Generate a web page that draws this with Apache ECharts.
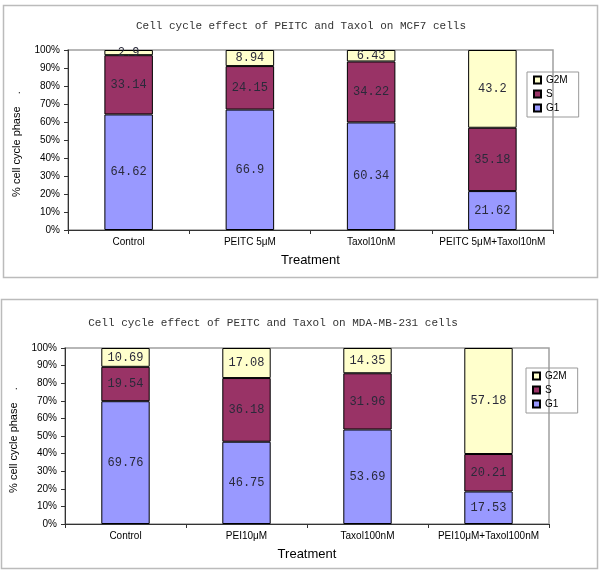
<!DOCTYPE html>
<html>
<head>
<meta charset="utf-8">
<script src="https://cdn.jsdelivr.net/npm/echarts@6/dist/echarts.min.js"></script>
<style>
html,body{margin:0;padding:0;background:#fff;}
#c{width:600px;height:571px;}
</style>
</head>
<body>
<div id="c"></div>
<script>
// ---- Data ----
const titles = ['Cell cycle effect of PEITC and Taxol on MCF7 cells',
                'Cell cycle effect of PEITC and Taxol on MDA-MB-231 cells'];
const categories1 = ['Control', 'PEITC 5μM', 'Taxol10nM', 'PEITC 5μM+Taxol10nM'];
const categories2 = ['Control', 'PEI10μM', 'Taxol100nM', 'PEI10μM+Taxol100nM'];
const g1_mcf7  = [64.62, 66.9, 60.34, 21.62];
const s_mcf7   = [33.14, 24.15, 34.22, 35.18];
const g2m_mcf7 = [2.9, 8.94, 6.43, 43.2];
const g1_mda   = [69.76, 46.75, 53.69, 17.53];
const s_mda    = [19.54, 36.18, 31.96, 20.21];
const g2m_mda  = [10.69, 17.08, 14.35, 57.18];
const yTicks = [0, 10, 20, 30, 40, 50, 60, 70, 80, 90, 100];
const yName = '% cell cycle phase    .';
const xName = 'Treatment';
const seriesNames = ['G1', 'S', 'G2M'];

// ---- 100% stacked: share of each phase per treatment ----
function pct(arr, a, b, c) {
  return arr.map((v, i) => v / (a[i] + b[i] + c[i]) * 100);
}
const colors = {G1: '#9999FF', S: '#993366', G2M: '#FFFFCC'};

const chart = echarts.init(document.getElementById('c'), null, {renderer: 'canvas'});

const grids = [
  {left: 68, top: 50, width: 485, height: 180},
  {left: 64, top: 348, width: 485, height: 176}
];

function makeAxes(idx, cats) {
  const x = {
    type: 'category', gridIndex: idx, data: cats,
    name: xName, nameLocation: 'middle', nameGap: 24,
    nameTextStyle: {fontFamily: 'Liberation Sans', fontSize: 13, color: '#000'},
    axisLine: {lineStyle: {color: '#333', width: 1}},
    axisTick: {show: true, length: 4, lineStyle: {color: '#333'}},
    axisLabel: {fontFamily: 'Liberation Sans', fontSize: 10, color: '#000', margin: 7, interval: 0}
  };
  const y = {
    type: 'value', gridIndex: idx, min: yTicks[0], max: yTicks[yTicks.length - 1], interval: 10,
    name: yName, nameLocation: 'middle', nameGap: 46, nameRotate: 90,
    nameTextStyle: {fontFamily: 'Liberation Sans', fontSize: 11, color: '#000', padding: [0, 8, 0, 0]},
    axisLine: {show: true, lineStyle: {color: '#333', width: 1}},
    axisTick: {show: true, length: 4, lineStyle: {color: '#333'}},
    axisLabel: {fontFamily: 'Liberation Sans', fontSize: 10, color: '#000', margin: 8, formatter: '{value}%'},
    splitLine: {show: false}
  };
  return [x, y];
}
const ax1 = makeAxes(0, categories1);
const ax2 = makeAxes(1, categories2);

function makeSeries(idx, g1, s, g2m) {
  const raw = {G1: g1, S: s, G2M: g2m};
  return seriesNames.map(n => ({
    name: n, type: 'bar', stack: 'st' + idx,
    xAxisIndex: idx, yAxisIndex: idx, barWidth: '40%',
    data: pct(raw[n], g1, s, g2m),
    itemStyle: {color: colors[n], borderColor: '#000', borderWidth: 1},
    label: {
      show: true, position: 'inside',
      fontFamily: 'Liberation Mono', fontSize: 12, color: '#2a2a3a',
      formatter: p => String(raw[n][p.dataIndex])
    },
    emphasis: {disabled: true}
  }));
}

const legendCommon = {
  orient: 'vertical', data: ['G2M', 'S', 'G1'],
  icon: 'rect', itemWidth: 7, itemHeight: 7, itemGap: 2,
  borderColor: '#999', borderWidth: 1, padding: [2, 11, 3, 6],
  textStyle: {fontFamily: 'Liberation Sans', fontSize: 10, color: '#000', lineHeight: 12},
  selectedMode: false
};

const option = {
  animation: false,
  backgroundColor: '#fff',
  title: [
    {text: titles[0], left: 296, top: 16, textAlign: 'center',
     textStyle: {fontFamily: 'Liberation Mono', fontSize: 11, fontWeight: 'normal', color: '#333'}},
    {text: titles[1], left: 268, top: 313, textAlign: 'center',
     textStyle: {fontFamily: 'Liberation Mono', fontSize: 11, fontWeight: 'normal', color: '#333'}}
  ],
  legend: [
    Object.assign({left: 527, top: 72}, legendCommon),
    Object.assign({left: 526, top: 368}, legendCommon)
  ],
  grid: grids.map(g => Object.assign({show: true, borderColor: '#a0a0a0', borderWidth: 1.5, backgroundColor: 'transparent'}, g)),
  xAxis: [ax1[0], ax2[0]],
  yAxis: [ax1[1], ax2[1]],
  series: makeSeries(0, g1_mcf7, s_mcf7, g2m_mcf7).concat(makeSeries(1, g1_mda, s_mda, g2m_mda)),
  graphic: [
    {type: 'rect', shape: {x: 3.5, y: 5.5, width: 594, height: 272}, style: {fill: 'none', stroke: '#bbb', lineWidth: 1.5}, silent: true, z: -1},
    {type: 'rect', shape: {x: 1.5, y: 299.5, width: 596, height: 269}, style: {fill: 'none', stroke: '#bbb', lineWidth: 1.5}, silent: true, z: -1}
  ]
};
chart.setOption(option);
</script>
</body>
</html>
